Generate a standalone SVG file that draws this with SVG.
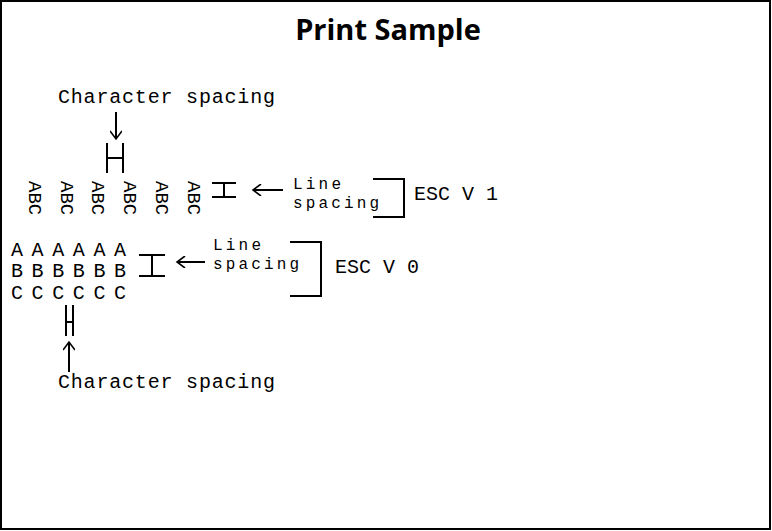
<svg xmlns="http://www.w3.org/2000/svg" width="772" height="531" viewBox="0 0 772 531">
<style>
.mono{font-family:"Liberation Mono","Courier New",monospace;font-size:20px;fill:#000}
.sm{font-family:"Liberation Mono","Courier New",monospace;font-size:16px;fill:#000}
.title{font-family:"Open Sans","Noto Sans",sans-serif;font-weight:bold;font-size:29px;fill:#000}
.ln{stroke:#000;stroke-width:2;fill:none}
</style>
<defs>
<marker id="arr" markerWidth="12" markerHeight="12" refX="9" refY="6" orient="auto" markerUnits="userSpaceOnUse">
<path d="M1,0 L9,6 L1,12" fill="none" stroke="#000" stroke-width="1.6"/>
</marker>
</defs>
<rect x="1" y="1" width="769" height="528" fill="#fff" stroke="#000" stroke-width="2"/>
<g id="title"><text class="title" x="388" y="40" text-anchor="middle">Print Sample</text></g>

<g id="char-spacing-top"><text class="mono" x="58" y="103" textLength="217">Character spacing</text></g>
<g id="rotated-abc">
<text class="mono" transform="translate(29,181) rotate(90)" style="font-size:19px">ABC</text>
<text class="mono" transform="translate(61,181) rotate(90)" style="font-size:19px">ABC</text>
<text class="mono" transform="translate(92,181) rotate(90)" style="font-size:19px">ABC</text>
<text class="mono" transform="translate(124,181) rotate(90)" style="font-size:19px">ABC</text>
<text class="mono" transform="translate(156,181) rotate(90)" style="font-size:19px">ABC</text>
<text class="mono" transform="translate(188,181) rotate(90)" style="font-size:19px">ABC</text>
</g>
<g id="line-spacing-1"><text class="sm" x="293" y="189" textLength="48">Line</text><text class="sm" x="293" y="208" textLength="86">spacing</text></g>
<g id="esc-v-1"><text class="mono" x="414" y="200">ESC V 1</text></g>

<g id="abc-grid">
<text class="mono" x="11 31.6 52.2 72.8 93.4 114" y="256">AAAAAA</text>
<text class="mono" x="11 31.6 52.2 72.8 93.4 114" y="277">BBBBBB</text>
<text class="mono" x="11 31.6 52.2 72.8 93.4 114" y="299">CCCCCC</text>
</g>
<g id="line-spacing-0"><text class="sm" x="213" y="250" textLength="48">Line</text><text class="sm" x="213" y="269" textLength="86">spacing</text></g>
<g id="esc-v-0"><text class="mono" x="335" y="273">ESC V 0</text></g>
<g id="char-spacing-bottom"><text class="mono" x="58" y="388" textLength="217">Character spacing</text></g>

<g id="connectors" class="ln">
<line x1="116" y1="112" x2="116" y2="139" marker-end="url(#arr)"/>
<path d="M107,143 V173 M123,143 V173 M107,158 H123"/>
<path d="M212,183 H236 M212,197 H236 M224,183 V197"/>
<line x1="283" y1="190" x2="253" y2="190" marker-end="url(#arr)"/>
<path d="M373,179 H404 V217 H373"/>
<path d="M139,255 H165 M139,276 H165 M152,255 V276"/>
<line x1="205" y1="262" x2="177" y2="262" marker-end="url(#arr)"/>
<path d="M290,242 H321 V296 H290"/>
<path d="M66,305 V336 M73,305 V336 M66,322 H73"/>
<line x1="69" y1="372" x2="69" y2="342" marker-end="url(#arr)"/>
</g>
</svg>
